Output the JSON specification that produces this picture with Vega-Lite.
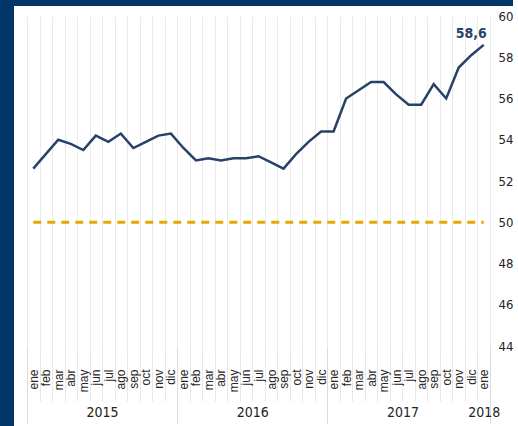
{
  "$schema": "https://vega.github.io/schema/vega-lite/v6.json",
  "padding": 0,
  "background": "white",
  "config": {
    "view": {"stroke": null},
    "locale": {"number": {"decimal": ",", "thousands": ".", "grouping": [3], "currency": ["", " €"]}}
  },
  "spacing": 0,
  "hconcat": [
    {"data": {"values": []}, "mark": "point", "width": 14, "height": 426, "view": {"fill": "#023668", "stroke": null}},
    {
      "spacing": 4,
      "vconcat": [
        {"data": {"values": []}, "mark": "point", "width": 499, "height": 6, "view": {"fill": "#023668", "stroke": null}},
        {
          "spacing": 6,
          "hconcat": [
            {"data": {"values": []}, "mark": "point", "width": 1, "height": 10, "view": {"stroke": null}},
            {
              "width": 463,
              "height": 330,
              "resolve": {"scale": {"x": "independent"}, "axis": {"x": "independent"}},
              "layer": [
                {
                  "data": {"values": [
                    {"mes": "ene 2015", "valor": 52.6}, {"mes": "feb 2015", "valor": 53.3}, {"mes": "mar 2015", "valor": 54.0},
                    {"mes": "abr 2015", "valor": 53.8}, {"mes": "may 2015", "valor": 53.5}, {"mes": "jun 2015", "valor": 54.2},
                    {"mes": "jul 2015", "valor": 53.9}, {"mes": "ago 2015", "valor": 54.3}, {"mes": "sep 2015", "valor": 53.6},
                    {"mes": "oct 2015", "valor": 53.9}, {"mes": "nov 2015", "valor": 54.2}, {"mes": "dic 2015", "valor": 54.3},
                    {"mes": "ene 2016", "valor": 53.6}, {"mes": "feb 2016", "valor": 53.0}, {"mes": "mar 2016", "valor": 53.1},
                    {"mes": "abr 2016", "valor": 53.0}, {"mes": "may 2016", "valor": 53.1}, {"mes": "jun 2016", "valor": 53.1},
                    {"mes": "jul 2016", "valor": 53.2}, {"mes": "ago 2016", "valor": 52.9}, {"mes": "sep 2016", "valor": 52.6},
                    {"mes": "oct 2016", "valor": 53.3}, {"mes": "nov 2016", "valor": 53.9}, {"mes": "dic 2016", "valor": 54.4},
                    {"mes": "ene 2017", "valor": 54.4}, {"mes": "feb 2017", "valor": 56.0}, {"mes": "mar 2017", "valor": 56.4},
                    {"mes": "abr 2017", "valor": 56.8}, {"mes": "may 2017", "valor": 56.8}, {"mes": "jun 2017", "valor": 56.2},
                    {"mes": "jul 2017", "valor": 55.7}, {"mes": "ago 2017", "valor": 55.7}, {"mes": "sep 2017", "valor": 56.7},
                    {"mes": "oct 2017", "valor": 56.0}, {"mes": "nov 2017", "valor": 57.5}, {"mes": "dic 2017", "valor": 58.1},
                    {"mes": "ene 2018", "valor": 58.6}
                  ]},
                  "encoding": {
                    "x": {
                      "field": "mes", "type": "ordinal", "sort": null,
                      "scale": {"type": "band", "paddingInner": 0, "paddingOuter": 0},
                      "axis": {
                        "title": null,
                        "labelExpr": "split(datum.label, ' ')[0]",
                        "labelAngle": 270,
                        "labelAlign": "right",
                        "labelBaseline": "middle",
                        "labelFont": "Liberation Sans",
                        "labelFontSize": 12,
                        "labelColor": "#262626",
                        "labelOverlap": false,
                        "tickBand": "extent",
                        "tickSize": 55,
                        "tickColor": "#e8e8e8",
                        "labelPadding": -32,
                        "domain": false,
                        "grid": true,
                        "gridColor": "#ebebeb"
                      }
                    }
                  },
                  "layer": [
                    {
                      "mark": {"type": "line", "color": "#e6a700", "strokeWidth": 3, "strokeDash": [8, 6]},
                      "encoding": {
                        "y": {"datum": 50, "type": "quantitative",
                          "scale": {"domain": [44, 60], "nice": false, "zero": false},
                          "axis": {"orient": "right", "values": [44, 46, 48, 50, 52, 54, 56, 58, 60], "title": null, "domain": false, "ticks": false, "labelPadding": 8, "labelFont": "DejaVu Sans Condensed, Liberation Sans, sans-serif", "labelFontSize": 13, "labelColor": "#222222", "gridColor": "#d9d9d9"}}
                      }
                    },
                    {
                      "mark": {"type": "line", "color": "#27416a", "strokeWidth": 2.5},
                      "encoding": {
                        "y": {"field": "valor", "type": "quantitative",
                          "scale": {"domain": [44, 60], "nice": false, "zero": false},
                          "axis": {"orient": "right", "values": [44, 46, 48, 50, 52, 54, 56, 58, 60], "title": null, "domain": false, "ticks": false, "labelPadding": 8, "labelFont": "DejaVu Sans Condensed, Liberation Sans, sans-serif", "labelFontSize": 13, "labelColor": "#222222", "gridColor": "#d9d9d9"}}
                      }
                    },
                    {
                      "transform": [{"filter": "datum.mes === 'ene 2018'"}],
                      "mark": {"type": "text", "align": "right", "baseline": "alphabetic", "dx": 3, "dy": -7, "font": "DejaVu Sans Condensed, Liberation Sans, sans-serif", "fontSize": 14, "fontWeight": "bold", "color": "#2b4468"},
                      "encoding": {
                        "y": {"field": "valor", "type": "quantitative"},
                        "text": {"field": "valor", "type": "quantitative", "format": ".1f"}
                      }
                    }
                  ]
                },
                {
                  "data": {"values": [
                    {"anio": "2015", "meses": 12},
                    {"anio": "2016", "meses": 12},
                    {"anio": "2017", "meses": 12},
                    {"anio": "2018", "meses": 1}
                  ]},
                  "mark": {"type": "bar", "opacity": 0},
                  "encoding": {
                    "x": {
                      "field": "meses", "type": "quantitative", "stack": "zero",
                      "scale": {"domain": [0, 37], "nice": false, "zero": true},
                      "axis": {
                        "orient": "bottom",
                        "title": null,
                        "values": [0, 6, 12, 18, 24, 30, 36.5, 37],
                        "labelExpr": "datum.value == 6 ? '2015' : datum.value == 18 ? '2016' : datum.value == 30 ? '2017' : datum.value == 36.5 ? '2018' : ''",
                        "tickColor": {"condition": {"test": "datum.value == 0 || datum.value == 12 || datum.value == 24 || datum.value == 37", "value": "#dcdcdc"}, "value": "transparent"},
                        "tickSize": 78,
                        "labelPadding": -19,
                        "labelBaseline": "top",
                        "labelFont": "DejaVu Sans Condensed, Liberation Sans, sans-serif",
                        "labelFontSize": 14,
                        "labelColor": "#222222",
                        "labelOverlap": false,
                        "labelFlush": false,
                        "labelBound": false,
                        "domain": false,
                        "grid": false
                      }
                    },
                    "detail": {"field": "anio"}
                  }
                }
              ]
            },
            {"data": {"values": []}, "mark": "point", "width": 1, "height": 10, "view": {"stroke": null}}
          ]
        }
      ]
    },
    {"data": {"values": []}, "mark": "point", "width": 5, "height": 426, "view": {"fill": "#023668", "stroke": null}}
  ]
}
